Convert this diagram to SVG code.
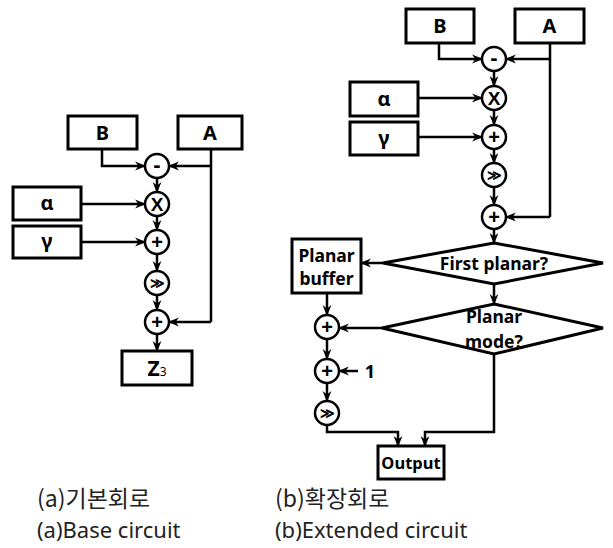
<svg xmlns="http://www.w3.org/2000/svg" width="613" height="548" viewBox="0 0 613 548">
  <style>
    .box { fill: #fff; stroke: #000; stroke-width: 3; }
    .op { fill: #fff; stroke: #000; stroke-width: 2.5; }
    .lbl { font-family: "Noto Sans", "Liberation Sans", sans-serif; font-weight: bold; fill: #000; text-anchor: middle; }
    .sym { font-family: "Liberation Sans", "Noto Sans", sans-serif; font-weight: bold; fill: #000; text-anchor: middle; }
    .wire { fill: none; stroke: #000; stroke-width: 2.5; }
    .arr { marker-end: url(#head); }
    .cap { fill: #222; }
    .kr { font-family: "Noto Sans CJK KR", "Noto Sans", sans-serif; font-size: 23px; }
    .en { font-family: "Noto Sans", "Liberation Sans", sans-serif; font-size: 22px; }
  </style>
  <defs>
    <marker id="head" markerUnits="userSpaceOnUse" markerWidth="11" markerHeight="11" viewBox="0 0 10 10" refX="9" refY="5" orient="auto">
      <path d="M0,1 L10,5 L0,9 L3,5 z" fill="#000"/>
    </marker>
  </defs>

  <!-- connectors -->
  <g id="connectors">
    <!-- base circuit -->
    <path class="wire arr" d="M102,149 V166 H145"/>
    <path class="wire" d="M211,149 V322"/>
    <path class="wire arr" d="M211,166 H169"/>
    <path class="wire arr" d="M211,322 H169"/>
    <path class="wire arr" d="M81,204 H145"/>
    <path class="wire arr" d="M81,242 H145"/>
    <path class="wire arr" d="M157,178 V192"/>
    <path class="wire arr" d="M157,216 V230"/>
    <path class="wire arr" d="M157,254 V271"/>
    <path class="wire arr" d="M157,295 V310"/>
    <path class="wire arr" d="M157,334 V351"/>

    <!-- extended circuit -->
    <path class="wire arr" d="M439,43 V59 H482"/>
    <path class="wire" d="M550,43 V217"/>
    <path class="wire arr" d="M550,59 H506"/>
    <path class="wire arr" d="M550,217 H506"/>
    <path class="wire arr" d="M418,98 H482"/>
    <path class="wire arr" d="M418,137 H482"/>
    <path class="wire arr" d="M494,71 V86"/>
    <path class="wire arr" d="M494,110 V125"/>
    <path class="wire arr" d="M494,149 V163"/>
    <path class="wire arr" d="M494,187 V205"/>
    <path class="wire arr" d="M494,229 V243"/>
    <path class="wire arr" d="M383,263 H361"/>
    <path class="wire arr" d="M494,284 V304"/>
    <path class="wire arr" d="M382,328 H339"/>
    <path class="wire arr" d="M327,293 V315"/>
    <path class="wire arr" d="M327,339 V359"/>
    <path class="wire arr" d="M358,371 H339"/>
    <path class="wire arr" d="M327,383 V401"/>
    <path class="wire arr" d="M327,425 V432 H398 V446"/>
    <path class="wire arr" d="M494,354 V432 H425 V446"/>
  </g>

  <!-- base circuit nodes -->
  <g id="a-B"><rect class="box" x="68" y="116" width="69" height="33"/><text class="lbl" x="102.5" y="140" font-size="20">B</text></g>
  <g id="a-A"><rect class="box" x="178" y="116" width="64" height="33"/><text class="lbl" x="210" y="140" font-size="20">A</text></g>
  <g id="a-alpha"><rect class="box" x="13" y="187" width="68" height="33"/><text class="lbl" x="47" y="210" font-size="20">α</text></g>
  <g id="a-gamma"><rect class="box" x="13" y="226" width="68" height="32"/><text class="lbl" x="47" y="248" font-size="20">γ</text></g>
  <g id="a-sub"><circle class="op" cx="157" cy="166" r="12"/><text class="sym" x="157" y="172" font-size="22">-</text></g>
  <g id="a-mul"><circle class="op" cx="157" cy="204" r="12"/><text class="sym" x="157" y="211" font-size="19">X</text></g>
  <g id="a-add1"><circle class="op" cx="157" cy="242" r="12"/><text class="sym" x="157" y="249" font-size="20">+</text></g>
  <g id="a-shift"><circle class="op" cx="157" cy="283" r="12"/><text class="sym" x="157" y="288" font-size="14">≫</text></g>
  <g id="a-add2"><circle class="op" cx="157" cy="322" r="12"/><text class="sym" x="157" y="329" font-size="20">+</text></g>
  <g id="a-Z3"><rect class="box" x="122" y="351" width="70" height="34"/><text class="lbl" x="157" y="376" font-size="21">Z<tspan font-size="12" font-weight="normal">3</tspan></text></g>

  <!-- extended circuit nodes -->
  <g id="b-B"><rect class="box" x="406" y="9" width="68" height="34"/><text class="lbl" x="440" y="33" font-size="20">B</text></g>
  <g id="b-A"><rect class="box" x="515" y="9" width="69" height="34"/><text class="lbl" x="549.5" y="33" font-size="20">A</text></g>
  <g id="b-alpha"><rect class="box" x="350" y="82" width="68" height="34"/><text class="lbl" x="384" y="106" font-size="20">α</text></g>
  <g id="b-gamma"><rect class="box" x="350" y="122" width="68" height="33"/><text class="lbl" x="384" y="145" font-size="20">γ</text></g>
  <g id="b-sub"><circle class="op" cx="494" cy="59" r="12"/><text class="sym" x="494" y="65" font-size="22">-</text></g>
  <g id="b-mul"><circle class="op" cx="494" cy="98" r="12"/><text class="sym" x="494" y="105" font-size="19">X</text></g>
  <g id="b-add1"><circle class="op" cx="494" cy="137" r="12"/><text class="sym" x="494" y="144" font-size="20">+</text></g>
  <g id="b-shift"><circle class="op" cx="494" cy="175" r="12"/><text class="sym" x="494" y="180" font-size="14">≫</text></g>
  <g id="b-add2"><circle class="op" cx="494" cy="217" r="12"/><text class="sym" x="494" y="224" font-size="20">+</text></g>
  <g id="b-first"><polygon class="box" points="494,243 603,263 494,284 383,263"/><text class="lbl" x="494" y="270" font-size="17.5">First planar?</text></g>
  <g id="b-buffer"><rect class="box" x="292" y="239" width="69" height="54"/><text class="lbl" x="326.5" y="262" font-size="17.5">Planar</text><text class="lbl" x="326.5" y="285" font-size="17.5">buffer</text></g>
  <g id="b-mode"><polygon class="box" points="494,304 603,328 494,354 382,328"/><text class="lbl" x="494" y="323" font-size="17.5">Planar</text><text class="lbl" x="494" y="348" font-size="17.5">mode?</text></g>
  <g id="b-add3"><circle class="op" cx="327" cy="327" r="12"/><text class="sym" x="327" y="334" font-size="20">+</text></g>
  <g id="b-add4"><circle class="op" cx="327" cy="371" r="12"/><text class="sym" x="327" y="378" font-size="20">+</text></g>
  <g id="b-one"><text class="lbl" x="370" y="378" font-size="18">1</text></g>
  <g id="b-shift2"><circle class="op" cx="327" cy="413" r="12"/><text class="sym" x="327" y="418" font-size="14">≫</text></g>
  <g id="b-output"><rect class="box" x="378" y="446" width="66" height="33"/><text class="lbl" x="411" y="469" font-size="16.5">Output</text></g>

  <!-- captions -->
  <g id="captions">
    <text class="cap kr" x="37" y="507">(a)기본회로</text>
    <text class="cap en" x="37" y="538">(a)Base circuit</text>
    <text class="cap kr" x="275" y="507">(b)확장회로</text>
    <text class="cap en" x="275" y="538">(b)Extended circuit</text>
  </g>
</svg>
